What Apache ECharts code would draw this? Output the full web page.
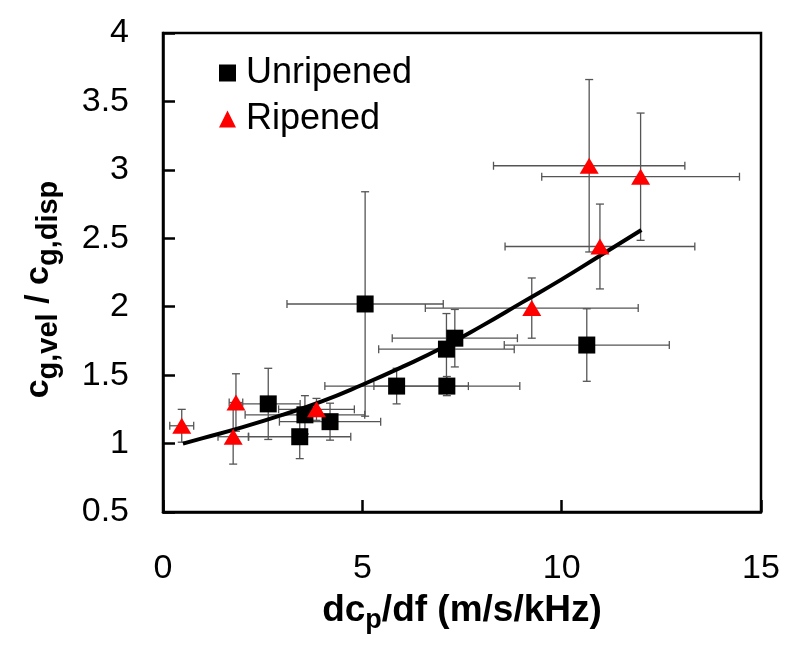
<!DOCTYPE html>
<html>
<head>
<meta charset="utf-8">
<script src="https://cdn.jsdelivr.net/npm/echarts@6/dist/echarts.min.js"></script>
<style>html,body{margin:0;padding:0;background:#fff}#c{width:800px;height:651px}</style>
</head>
<body>
<div id="c"></div>
<script>
// Unripened: [x, y, xErr, yErr]
const unripenedX    = [2.64, 3.43, 3.56, 4.19, 5.07, 5.86, 7.12, 7.11, 7.32, 10.63];
const unripenedY    = [1.29, 1.05, 1.21, 1.16, 2.02, 1.42, 1.42, 1.69, 1.77, 1.72];
const unripenedXErr = [0.80, 1.28, 1.50, 1.27, 1.96, 1.80, 1.83, 1.70, 1.57, 2.07];
const unripenedYErr = [0.26, 0.16, 0.14, 0.135, 0.82, 0.13, 0.07, 0.26, 0.21, 0.265];
// Ripened
const ripenedX    = [0.47, 1.83, 1.76, 3.85, 9.25, 10.96, 10.69, 11.98];
const ripenedY    = [1.13, 1.30, 1.05, 1.25, 1.99, 2.44, 3.03, 2.95];
const ripenedXErr = [0.30, 0.17, 0.38, 0.95, 2.67, 2.38, 2.40, 2.48];
const ripenedYErr = [0.12, 0.21, 0.20, 0.08, 0.22, 0.31, 0.63, 0.465];
// Trend line
const trendX = [0.5, 1, 2, 3, 4, 5, 6, 7, 8, 9, 10, 11, 12];
const trendY = [1.00, 1.04, 1.12, 1.21, 1.31, 1.43, 1.56, 1.70, 1.86, 2.03, 2.20, 2.38, 2.56];
// Axes
const xMin = 0, xMax = 15, xStep = 5;
const yMin = 0.5, yMax = 4, yStep = 0.5;

const FONT = "'Liberation Sans', Arial, sans-serif";
const zip4 = (a,b,c,d) => a.map((v,i)=>[v,b[i],c[i],d[i]]);
const unData = zip4(unripenedX, unripenedY, unripenedXErr, unripenedYErr);
const riData = zip4(ripenedX, ripenedY, ripenedXErr, ripenedYErr);
const trendData = trendX.map((v,i)=>[v,trendY[i]]);

function errRender(params, api) {
  const x = api.value(0), y = api.value(1), xe = api.value(2), ye = api.value(3);
  const l = api.coord([x - xe, y]), r = api.coord([x + xe, y]);
  const t = api.coord([x, y + ye]), b = api.coord([x, y - ye]);
  const cap = 4;
  const st = {stroke: '#555', lineWidth: 1.3};
  const ln = (x1,y1,x2,y2) => ({type:'line', shape:{x1,y1,x2,y2}, style: st});
  return {type:'group', children: [
    ln(l[0], l[1], r[0], r[1]),
    ln(l[0], l[1]-cap, l[0], l[1]+cap),
    ln(r[0], r[1]-cap, r[0], r[1]+cap),
    ln(t[0], t[1], b[0], b[1]),
    ln(t[0]-cap, t[1], t[0]+cap, t[1]),
    ln(b[0]-cap, b[1], b[0]+cap, b[1])
  ]};
}

const chart = echarts.init(document.getElementById('c'), null, {renderer:'canvas'});
chart.setOption({
  animation: false,
  backgroundColor: '#fff',
  grid: {left: 163, right: 39, top: 33, bottom: 139, show: true, borderColor: '#000', borderWidth: 2.5, backgroundColor: 'transparent'},
  legend: {
    data: ['Unripened', 'Ripened'],
    orient: 'vertical', left: 214, top: 50,
    itemWidth: 17, itemHeight: 17, itemGap: 10,
    textStyle: {fontSize: 36, fontFamily: FONT, color: '#000', padding: [0,0,0,5]}
  },
  xAxis: {
    type: 'value', min: xMin, max: xMax, interval: xStep,
    name: '{b|dc}{s|p}{b|/df (m/s/kHz)}', nameLocation: 'middle', nameGap: 80,
    nameTextStyle: {rich: {
      b: {fontSize: 37, fontWeight: 'bold', fontFamily: FONT, color: '#000', verticalAlign: 'top'},
      s: {fontSize: 27, fontWeight: 'bold', fontFamily: FONT, color: '#000', verticalAlign: 'bottom', padding: [15,0,0,0]}
    }},
    axisLine: {show: true, onZero: false, lineStyle: {color: '#000', width: 2.5}},
    axisTick: {show: true, inside: true, length: 12, lineStyle: {color: '#000', width: 2.5}},
    axisLabel: {fontSize: 34, fontFamily: FONT, color: '#000', margin: 40},
    splitLine: {show: false}
  },
  yAxis: {
    type: 'value', min: yMin, max: yMax, interval: yStep,
    name: '{b|c}{s|g,vel}{b| / c}{s|g,disp}', nameLocation: 'middle', nameGap: 100, nameRotate: 90,
    nameTextStyle: {padding: [0, 34, 0, 0], rich: {
      b: {fontSize: 34, fontWeight: 'bold', fontFamily: FONT, color: '#000', verticalAlign: 'top'},
      s: {fontSize: 29, fontWeight: 'bold', fontFamily: FONT, color: '#000', verticalAlign: 'bottom', padding: [12,0,0,0]}
    }},
    axisLine: {show: true, onZero: false, lineStyle: {color: '#000', width: 2.5}},
    axisTick: {show: true, inside: true, length: 12, lineStyle: {color: '#000', width: 2.5}},
    axisLabel: {fontSize: 34, fontFamily: FONT, color: '#000', margin: 34},
    splitLine: {show: false}
  },
  series: [
    {type: 'custom', name: 'errU', data: unData, renderItem: errRender, z: 1, encode: {x: 0, y: 1}, silent: true},
    {type: 'custom', name: 'errR', data: riData, renderItem: errRender, z: 1, encode: {x: 0, y: 1}, silent: true},
    {type: 'line', name: 'trend', data: trendData, smooth: true, showSymbol: false, symbol: 'none',
     lineStyle: {color: '#000', width: 4}, z: 2},
    {type: 'scatter', name: 'Unripened', data: unData.map(d=>[d[0],d[1]]), symbol: 'rect', symbolSize: 17,
     itemStyle: {color: '#000', opacity: 1}, z: 3},
    {type: 'scatter', name: 'Ripened', data: riData.map(d=>[d[0],d[1]]), symbol: 'triangle', symbolSize: [19,16],
     itemStyle: {color: '#ff0000', opacity: 1}, z: 3}
  ]
});
</script>
</body>
</html>
